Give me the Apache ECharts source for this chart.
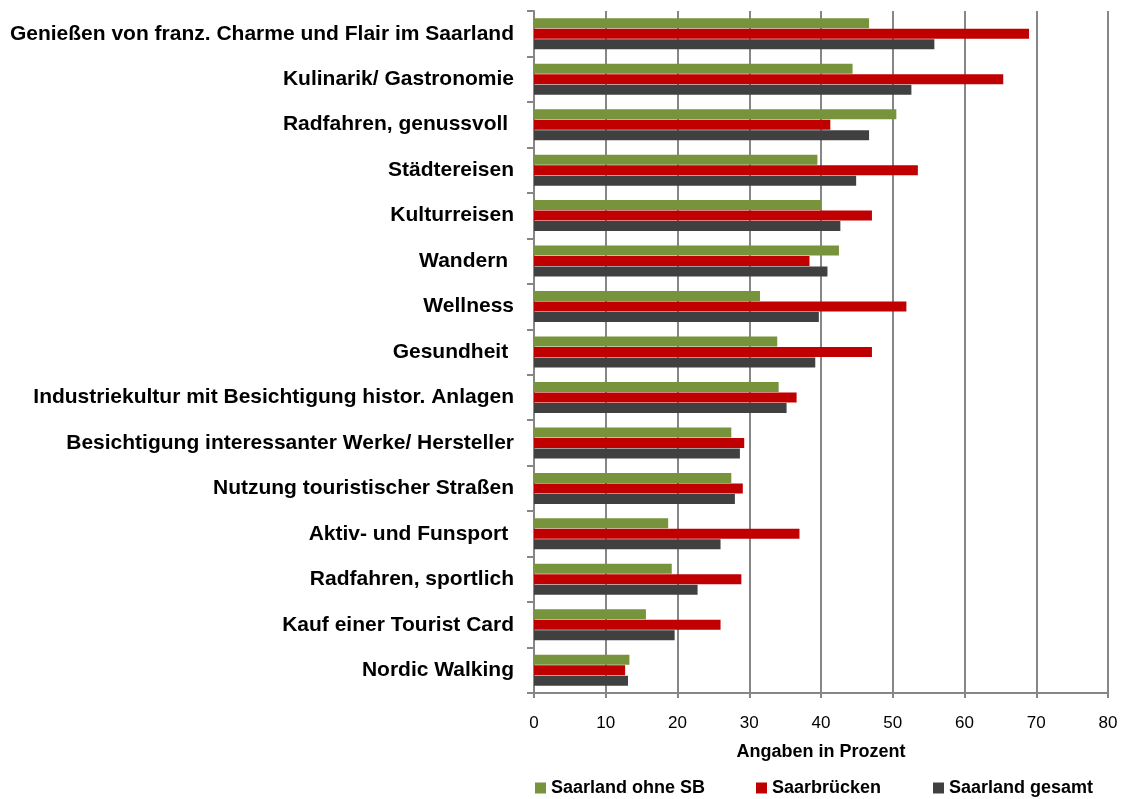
<!DOCTYPE html>
<html>
<head>
<meta charset="utf-8">
<script src="https://cdn.jsdelivr.net/npm/echarts@6/dist/echarts.min.js"></script>
<style>
html,body{margin:0;padding:0;background:#fff;}
#chart{width:1121px;height:799px;}
</style>
</head>
<body>
<div id="chart"></div>
<script>
const categories = [
  "Genießen von franz. Charme und Flair im Saarland",
  "Kulinarik/ Gastronomie",
  "Radfahren, genussvoll ",
  "Städtereisen",
  "Kulturreisen",
  "Wandern ",
  "Wellness",
  "Gesundheit ",
  "Industriekultur mit Besichtigung histor. Anlagen",
  "Besichtigung interessanter Werke/ Hersteller",
  "Nutzung touristischer Straßen",
  "Aktiv- und Funsport ",
  "Radfahren, sportlich",
  "Kauf einer Tourist Card",
  "Nordic Walking"
];
const seriesNames = ["Saarland ohne SB", "Saarbrücken", "Saarland gesamt"];
const saarlandOhneSB = [46.7, 44.4, 50.5, 39.5, 40.0, 42.5, 31.5, 33.9, 34.1, 27.5, 27.5, 18.7, 19.2, 15.6, 13.3];
const saarbruecken   = [69.0, 65.4, 41.3, 53.5, 47.1, 38.4, 51.9, 47.1, 36.6, 29.3, 29.1, 37.0, 28.9, 26.0, 12.7];
const saarlandGesamt = [55.8, 52.6, 46.7, 44.9, 42.7, 40.9, 39.7, 39.2, 35.2, 28.7, 28.0, 26.0, 22.8, 19.6, 13.1];
const xTicks = { min: 0, max: 80, interval: 10 };
const axisTitle = "Angaben in Prozent";

const colors = ["#77933C", "#C00000", "#404040"];
const legendLeft = [535, 756, 933];
const chart = echarts.init(document.getElementById('chart'), null, {renderer: 'canvas'});
const mk = (name, data, i) => ({
  name: name, type: 'bar', data: data,
  barWidth: 10, barGap: '5%',
  itemStyle: { color: colors[i] },
  emphasis: { disabled: true }
});
chart.setOption({
  animation: false,
  textStyle: { fontFamily: 'Liberation Sans, Arial, sans-serif' },
  grid: { left: 534, right: 13, top: 11, bottom: 106, containLabel: false, outerBoundsMode: 'none' },
  xAxis: {
    type: 'value', min: xTicks.min, max: xTicks.max, interval: xTicks.interval,
    name: axisTitle, nameLocation: 'middle', nameGap: 50,
    nameTextStyle: { fontSize: 18, fontWeight: 'bold', color: '#000' },
    axisLine: { show: true, lineStyle: { color: '#868686', width: 2 } },
    axisTick: { show: true, length: 5, lineStyle: { color: '#868686', width: 2 } },
    axisLabel: { fontSize: 17, color: '#000', margin: 22 },
    splitLine: { show: true, lineStyle: { color: '#868686', width: 2 } }
  },
  yAxis: {
    type: 'category', data: categories, inverse: true,
    axisLine: { show: true, lineStyle: { color: '#868686', width: 2 } },
    axisTick: { show: true, length: 7, lineStyle: { color: '#868686', width: 2 } },
    axisLabel: { fontSize: 21, fontWeight: 'bold', color: '#000', margin: 20 }
  },
  legend: seriesNames.map((n, i) => ({
    top: 779, left: legendLeft[i], itemWidth: 11, itemHeight: 11, itemGap: 0,
    icon: 'rect', padding: 0,
    textStyle: { fontSize: 18, fontWeight: 'bold', color: '#000' },
    data: [n]
  })),
  series: [
    mk(seriesNames[0], saarlandOhneSB, 0),
    mk(seriesNames[1], saarbruecken, 1),
    mk(seriesNames[2], saarlandGesamt, 2)
  ]
});
</script>
</body>
</html>
